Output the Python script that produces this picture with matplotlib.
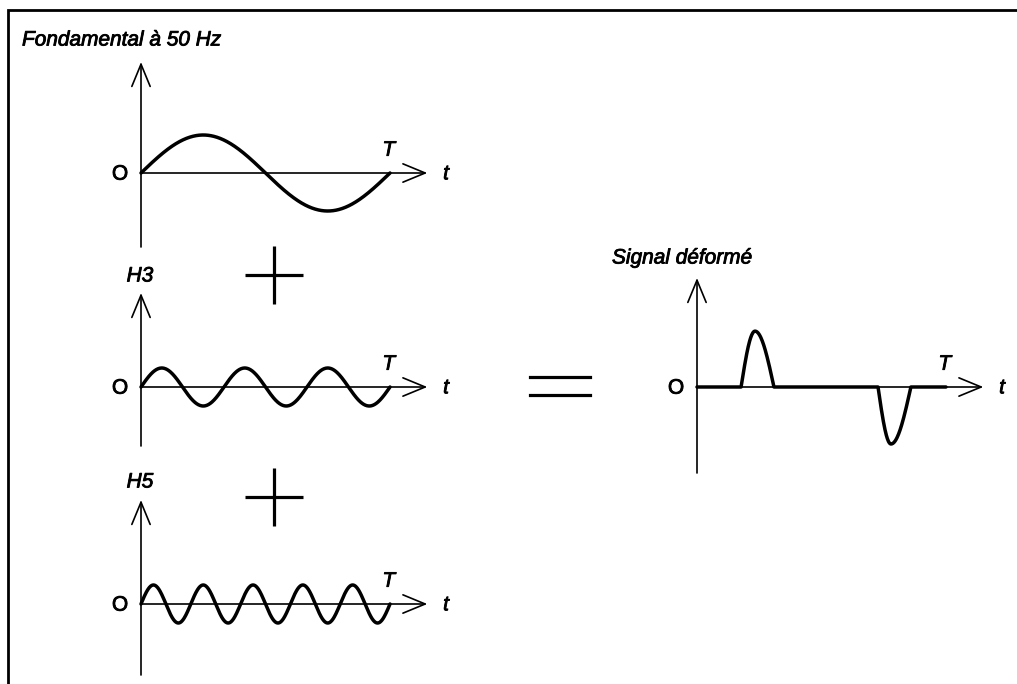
import matplotlib.pyplot as plt
import matplotlib.patheffects as pe
import numpy as np

plt.rcParams['font.family'] = ['Liberation Sans', 'DejaVu Sans']

W, H = 1017, 684
PERIOD_PX = 249   # width of one period T
UNIT_PX = 38      # height of one amplitude unit
X_END = 1.15      # horizontal arrow tip, in periods

# fundamental and harmonics (order, amplitude)
harmonic_orders = [1, 3, 5]
harmonic_amps = [1.0, 0.5, 0.5]
harmonic_names = ["Fondamental à 50 Hz", "H3", "H5"]

# distorted signal: one positive and one negative pulse (fractions of T)
pulse_start = [0.177, 0.727]
pulse_peak = [0.233, 0.779]
pulse_end = [0.309, 0.859]
pulse_height = [1.47, -1.50]

# panel layout in pixels: origin x, origin y, axis top, axis bottom
layout = {
    "H1": (141, 173, 62, 247),
    "H3": (141, 387, 293, 446),
    "H5": (141, 604, 500, 675),
    "sig": (697, 387, 278, 473),
}

fig = plt.figure(figsize=(W / 100, H / 100), dpi=100)

# slightly heavier glyphs
heavy = [pe.withStroke(linewidth=0.6, foreground="black")]
txt = dict(fontsize=15, ha="center", va="center", path_effects=heavy)

arrow = dict(arrowstyle="->,head_length=0.8,head_width=0.33", lw=1.2,
             color="black", shrinkA=0, shrinkB=0, mutation_scale=20)


def make_panel(ox, oy, top, bottom):
    ax = fig.add_axes([ox / W, 1 - bottom / H, X_END * PERIOD_PX / W, (bottom - top) / H])
    ymin, ymax = (oy - bottom) / UNIT_PX, (oy - top) / UNIT_PX
    ax.set_xlim(0, X_END)
    ax.set_ylim(ymin, ymax)
    ax.axis("off")
    ax.annotate("", xy=(X_END, 0), xytext=(0, 0), arrowprops=arrow, annotation_clip=False)
    ax.annotate("", xy=(0, ymax), xytext=(0, ymin), arrowprops=arrow, annotation_clip=False)
    ax.text(-0.084, -0.03, "O", **txt)
    ax.text(0.995, 0.6, "T", style="italic", **txt)
    ax.text(X_END + 0.075, -0.02, "t", style="italic", **txt)
    return ax


# sine panels
t = np.linspace(0, 1, 600)
for key, n, a in zip(["H1", "H3", "H5"], harmonic_orders, harmonic_amps):
    ax = make_panel(*layout[key])
    ax.plot(t, a * np.sin(2 * np.pi * n * t), color="black", lw=2.5,
            clip_on=False, solid_capstyle="round")

# distorted signal panel
ax = make_panel(*layout["sig"])
xs, ys = [0.0], [0.0]
u = np.linspace(0, 1, 40)
for s, p, e, h in zip(pulse_start, pulse_peak, pulse_end, pulse_height):
    xs += list(s + u * (p - s)) + list(p + u * (e - p))
    ys += list(h * np.sin(np.pi / 2 * u)) + list(h * np.cos(np.pi / 2 * u))
xs.append(1.0)
ys.append(0.0)
ax.plot(xs, ys, color="black", lw=2.5, clip_on=False, solid_capstyle="round")

# frame, operators and titles
over = fig.add_axes([0, 0, 1, 1], zorder=-1)
over.set_xlim(0, W)
over.set_ylim(H, 0)
over.axis("off")
over.plot([8, 8, W], [H, 10, 10], color="black", lw=2.0, solid_joinstyle="miter")
for cy in (275, 497):
    over.plot(274, cy, marker="+", markersize=42, markeredgewidth=2.3, color="black")
for ey in (377, 395):
    over.plot([530, 590], [ey, ey], color="black", lw=2.3)

over.text(22, 40, harmonic_names[0], style="italic", **{**txt, "ha": "left"})
over.text(140, 276, harmonic_names[1], style="italic", **txt)
over.text(140, 482, harmonic_names[2], style="italic", **txt)
over.text(612, 258, "Signal déformé", style="italic", **{**txt, "ha": "left"})

fig.savefig("out.png", dpi=100)
